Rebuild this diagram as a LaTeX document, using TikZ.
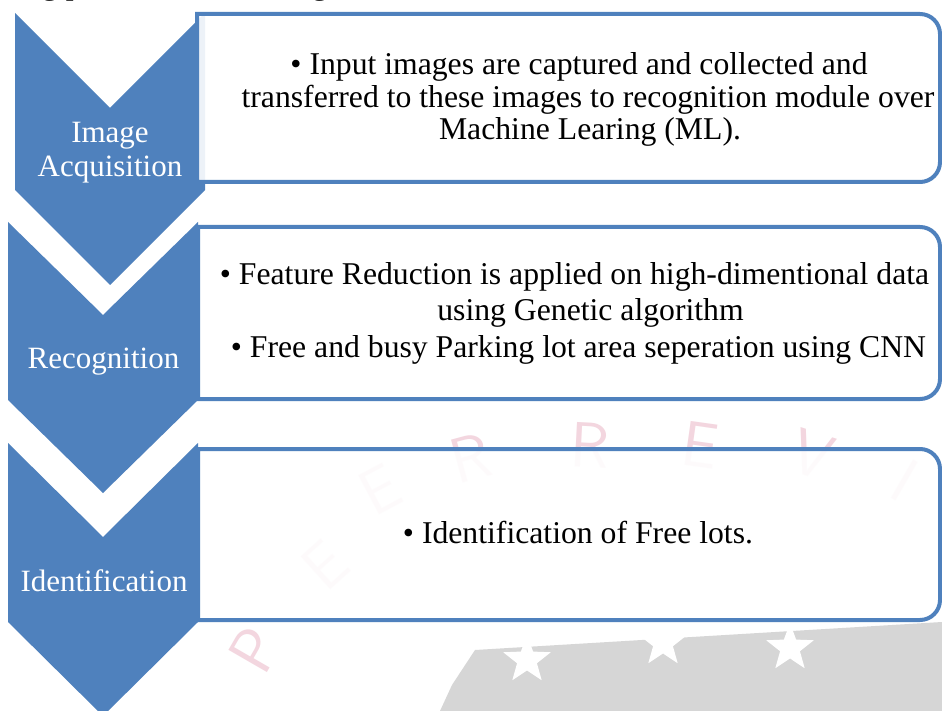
\documentclass[tikz,border=0pt]{standalone}
\usepackage{fontspec}
\setmainfont{Liberation Serif}
\usetikzlibrary{shapes.geometric}
\definecolor{accblue}{HTML}{4F81BD}
\definecolor{wmpink}{HTML}{F3D6DF}
\definecolor{wmgray}{HTML}{D6D6D6}
\begin{document}
\begin{tikzpicture}[x=1pt,y=-1pt,
  chev/.style={fill=accblue, draw=none},
  panel/.style={draw=accblue, line width=4pt, fill=white, fill opacity=0.9},
  lbl/.style={text=white, font=\fontsize{31}{34}\selectfont, anchor=base, inner sep=0pt},
  body/.style={text=black, font=\fontsize{31.7}{33}\selectfont, anchor=base, inner sep=0pt},
  wmletter/.style={text=wmpink, font=\sffamily\fontsize{64}{64}\selectfont, inner sep=0pt},
  wmstar/.style={star, star points=5, star point ratio=2.4, fill=white, draw=none, minimum size=50pt, inner sep=0pt}
]
\useasboundingbox (0,0) rectangle (942,711);
\fill[white] (0,0) rectangle (942,711);

% faint watermark
\fill[wmgray] (440,711) -- (452,685) -- (475,650) -- (942,622) -- (942,711) -- cycle;
\node[wmstar] (st1) at (527,660) {};
\node[wmstar] (st2) at (663,643) {};
\node[wmstar] (st3) at (790,648) {};
\node[wmletter, rotate=-3]  (w1) at (590,445) {R};
\node[wmletter, rotate=-8]  (w2) at (700,445) {E};
\node[wmletter, rotate=-18] (w3) at (812,455) {V};
\node[wmletter, rotate=-30] (w4) at (905,480) {I};
\node[wmletter, rotate=15]  (w5) at (470,458) {R};
\node[wmletter, rotate=28]  (w6) at (380,490) {E};
\node[wmletter, rotate=42]  (w7) at (325,565) {E};
\node[wmletter, rotate=60]  (w8) at (255,650) {P};

% partial line of text above (descenders only)
\node[body, anchor=base west] (top1) at (42,-5) {g p};
\node[body, anchor=base west] (top2) at (312,-5) {g};

% chevrons
\fill[chev] (15,13) -- (110,108) -- (205,13) -- (205,190) -- (110,285) -- (15,190) -- cycle;
\fill[chev] (8,222) -- (103,315) -- (198,222) -- (198,400) -- (103,493) -- (8,400) -- cycle;
\fill[chev] (8,443) -- (103,537) -- (198,443) -- (198,622) -- (103,716) -- (8,622) -- cycle;

% panels
\draw[panel] (197,14) [rounded corners=20pt] -- (940,14) -- (940,182) [sharp corners] -- (197,182) -- cycle;
\draw[panel] (198,227) [rounded corners=20pt] -- (940,227) -- (940,399) [sharp corners] -- (198,399) -- cycle;
\draw[panel] (198,449) [rounded corners=20pt] -- (940,449) -- (940,620) [sharp corners] -- (198,620) -- cycle;

% chevron labels
\node[lbl] (c1a) at (110,143) {Image};
\node[lbl] (c1b) at (110,177) {Acquisition};
\node[lbl] (c2) at (103.5,368) {Recognition};
\node[lbl] (c3) at (104,591) {Identification};

% panel texts
\node[body] (t1a) at (579,75) {• Input images are captured and collected and};
\node[body] (t1b) at (588,108) {transferred to these images to recognition module over};
\node[body] (t1c) at (590,140) {Machine Learing (ML).};

\node[body] (t2a) at (574.5,285) {• Feature Reduction is applied on high-dimentional data};
\node[body] (t2b) at (590.5,320) {using Genetic algorithm};
\node[body] (t2c) at (578.5,357) {• Free and busy Parking lot area seperation using CNN};

\node[body] (t3) at (578,543) {• Identification of Free lots.};
\end{tikzpicture}
\end{document}
